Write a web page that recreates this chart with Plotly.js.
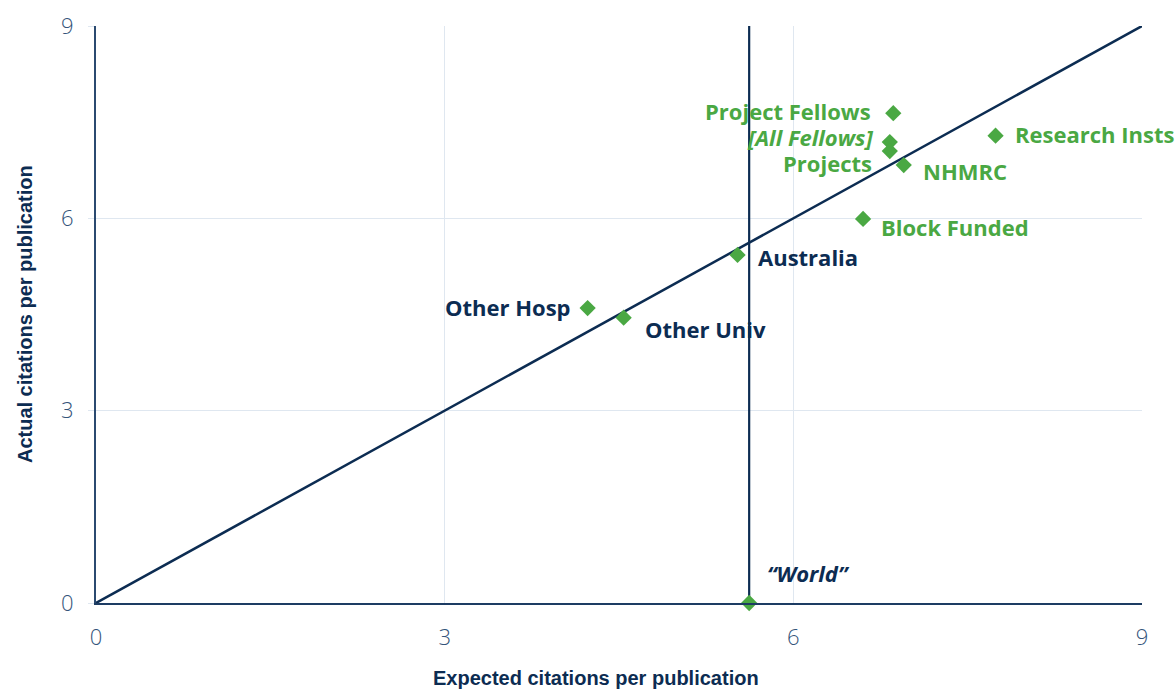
<!DOCTYPE html>
<html>
<head>
<meta charset="utf-8">
<script src="https://cdn.plot.ly/plotly-3.0.1.min.js"></script>
<style>
  html, body { margin: 0; padding: 0; background: #ffffff; }
  #chart { width: 1176px; height: 693px; }
</style>
</head>
<body>
<div id="chart"></div>
<script>
// ---- data ----
const groupNames = ["Project Fellows", "[All Fellows]", "Projects", "NHMRC", "Research Insts",
                    "Block Funded", "Australia", "Other Hosp", "Other Univ", "\u201cWorld\u201d"];
const expectedCites = [6.86, 6.83, 6.83, 6.95, 7.74, 6.60, 5.52, 4.23, 4.54, 5.62];
const actualCites   = [7.64, 7.19, 7.05, 6.83, 7.29, 5.99, 5.43, 4.60, 4.45, 0.00];
const worldExpected = 5.62;
const axisMax = 9;
const tickValues = [0, 3, 6, 9];
const tickLabels = ["0", "3", "6", "9"];

// ---- styles (not data) ----
const GREEN = "#4aa843";
const NAVY = "#0c2c52";
const labelStyle = [
  // [xanchor, xshift, yshift, color, italic]
  ["right", -20, 2, GREEN, false],
  ["right", -15, 5, GREEN, true],
  ["right", -16, -12, GREEN, false],
  ["left", 17, -6, GREEN, false],
  ["left", 17, 2, GREEN, false],
  ["left", 16, -8, GREEN, false],
  ["left", 18, -2, NAVY, false],
  ["right", -15, 1, NAVY, false],
  ["left", 19, -11, NAVY, false],
  ["left", 16, 30, NAVY, true]
];

const traces = [
  { // diagonal: actual = expected
    x: [0, axisMax], y: [0, axisMax], mode: "lines",
    line: { color: NAVY, width: 2.5 }, hoverinfo: "skip", showlegend: false, cliponaxis: false
  },
  { // vertical world reference
    x: [worldExpected, worldExpected], y: [0, axisMax], mode: "lines",
    line: { color: NAVY, width: 2.2 }, hoverinfo: "skip", showlegend: false, cliponaxis: false
  },
  {
    x: expectedCites, y: actualCites, mode: "markers", text: groupNames,
    marker: { symbol: "diamond", size: 12.5, color: GREEN, line: { width: 0 } },
    showlegend: false, cliponaxis: false
  }
];

const labelFont = "'Open Sans', 'DejaVu Sans', sans-serif";
const annotations = groupNames.map((n, i) => {
  const s = labelStyle[i];
  return {
    x: expectedCites[i], y: actualCites[i], xref: "x", yref: "y",
    text: s[4] ? "<i>" + n + "</i>" : n,
    showarrow: false, xanchor: s[0], yanchor: "middle",
    xshift: s[1], yshift: s[2],
    font: { family: labelFont, size: 22, color: s[3], weight: 700 }
  };
});

const titleFont = { family: "'Liberation Sans Narrow', 'Arial Narrow', 'Liberation Sans', sans-serif", size: 20, color: NAVY, weight: 700 };
annotations.push({
  text: "Expected citations per publication", xref: "paper", yref: "paper",
  x: 0.478, y: -0.13, xanchor: "center", yanchor: "middle", showarrow: false, font: titleFont
});
annotations.push({
  text: "Actual citations per publication", xref: "paper", yref: "paper",
  x: -0.0683, y: 0.5, xanchor: "center", yanchor: "middle", textangle: -90, showarrow: false, font: titleFont
});

const tickFont = { family: "'Open Sans', 'Lato', sans-serif", size: 22, color: "#34547a", weight: 300 };
const GRID = "#dfe7f0";

const layout = {
  width: 1176, height: 693,
  margin: { l: 95.5, r: 34, t: 26, b: 90, pad: 0 },
  paper_bgcolor: "#ffffff", plot_bgcolor: "#ffffff",
  xaxis: {
    range: [0, axisMax], tickvals: tickValues, ticktext: tickLabels,
    showgrid: true, gridcolor: GRID, gridwidth: 1.2, zeroline: false,
    showline: true, linecolor: "#1d3c63", linewidth: 2,
    ticks: "", ticklabelstandoff: 14, tickfont: tickFont, fixedrange: true
  },
  yaxis: {
    range: [0, axisMax], tickvals: tickValues, ticktext: tickLabels,
    showgrid: true, gridcolor: GRID, gridwidth: 1.2, zeroline: false,
    showline: true, linecolor: "#2b4a70", linewidth: 2,
    ticks: "outside", ticklen: 6, tickcolor: GRID, tickwidth: 1.2,
    ticklabelstandoff: 10, tickfont: tickFont, fixedrange: true
  },
  annotations: annotations,
  hovermode: "closest"
};

Plotly.newPlot("chart", traces, layout, { displayModeBar: false, staticPlot: false });
</script>
</body>
</html>
